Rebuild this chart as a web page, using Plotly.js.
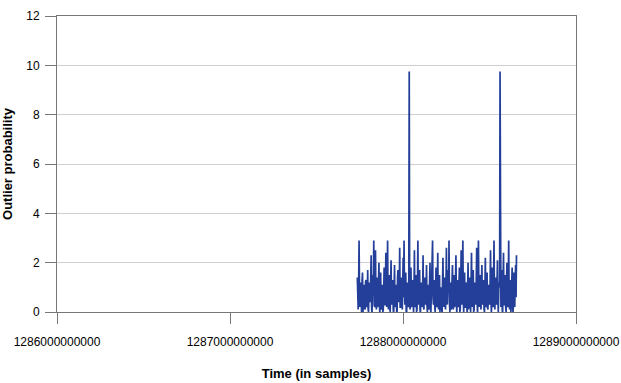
<!DOCTYPE html>
<html>
<head>
<meta charset="utf-8">
<script src="https://cdn.plot.ly/plotly-3.0.1.min.js"></script>
<style>html,body{margin:0;padding:0;background:#fff;}#chart{width:621px;height:383px;}</style>
</head>
<body>
<div id="chart"></div>
<script>
// Sample timing: first sample and spacing between samples
const xStart = 1287736000000;
const xStep = 2500000;

// Outlier probability per sample
const outlierProbability = [
  1.4,0.5, 0.1,1.0, 2.9,0.9, 0.2,0.7, 1.2,0.3, -0.1,1.3, 1.6,0.0, 0.3,0.9, 1.1,0.2, 0.1,1.2,
  1.3,0.4, 0.2,0.8, 1.7,0.1, 0.0,1.0, 1.2,0.6, 0.4,1.4, 2.3,0.2, -0.1,0.9, 1.5,0.7, 2.9,0.3,
  0.2,1.1, 2.5,0.4, 0.1,0.8, 1.4,0.2, 0.3,1.2, 2.0,0.5, -0.1,1.0, 1.6,0.1, 0.2,0.7, 1.1,0.0,
  0.1,0.9, 1.8,0.3, 0.3,1.1, 2.4,0.6, 0.2,1.3, 2.9,0.4, 0.1,0.8, 1.5,0.2, 0.0,1.0, 2.1,0.5,
  0.3,1.2, 1.3,0.1, -0.1,0.7, 1.9,0.3, 0.2,1.1, 1.0,0.0, 0.0,1.4, 1.7,0.5, 0.4,0.9, 2.6,0.2,
  0.2,1.0, 1.4,0.3, 0.1,1.2, 2.2,0.6, 2.9,0.8, 0.3,1.1, 1.6,0.0, -0.1,0.9, 1.2,0.4, 0.2,1.3,
  9.75,0.5, 0.1,1.0, 1.8,0.2, 0.3,1.2, 1.3,0.4, 0.0,0.8, 2.5,0.3, 0.2,1.1, 1.5,0.0, 0.1,0.9,
  2.9,0.6, 0.3,1.3, 1.7,0.1, -0.1,1.0, 1.2,0.5, 0.2,0.8, 2.3,0.2, 0.1,1.2, 1.4,0.4, 0.3,0.9,
  1.9,0.3, 0.0,1.0, 1.1,0.1, 0.2,1.2, 2.0,0.4, -0.1,0.7, 1.6,1.1, 2.9,0.6, 0.3,1.0, 1.3,0.2,
  0.0,0.9, 1.8,0.4, 0.2,1.1, 2.4,0.3, 0.1,1.3, 1.5,0.0, 0.3,0.8, 1.0,0.2, -0.1,1.2, 2.2,0.5,
  0.2,1.0, 1.4,0.3, 0.1,1.2, 2.6,0.5, 0.3,0.9, 1.7,0.8, 2.9,0.4, 0.0,1.1, 1.2,0.1, 0.2,1.3,
  1.9,0.4, 0.1,0.9, 1.5,0.2, 0.3,1.2, 2.3,0.6, -0.1,1.0, 1.3,0.3, 0.2,1.1, 1.8,0.0, 0.1,0.8,
  2.5,0.7, 0.3,1.4, 2.9,0.5, 0.0,1.0, 1.6,0.2, 0.2,1.2, 1.1,0.4, -0.1,0.9, 2.0,0.1, 0.3,1.1,
  1.4,0.3, 0.0,1.2, 2.4,0.6, 0.2,0.9, 1.7,0.0, 0.1,1.1, 1.2,0.4, 0.3,1.3, 2.6,0.5, -0.1,1.0,
  2.9,0.8, 0.2,1.1, 1.5,0.3, 0.1,1.2, 1.9,0.5, 0.3,0.9, 1.3,0.1, 0.0,1.0, 2.2,0.4, 0.2,1.3,
  1.6,0.2, 0.1,1.0, 1.1,0.4, 0.3,1.2, 2.5,0.6, -0.1,0.8, 1.8,0.3, 0.2,1.1, 2.9,0.7, 0.1,1.0,
  1.4,0.4, 0.3,1.2, 2.1,0.5, 0.0,0.9, 1.2,1.0, 9.75,0.6, 0.2,1.1, 1.7,0.1, -0.1,1.3, 2.4,0.3,
  0.3,1.0, 1.5,0.2, 0.0,1.2, 2.0,0.4, 0.2,1.1, 2.9,0.6, 0.1,0.9, 1.3,0.0, 0.3,1.2, 1.8,0.5,
  -0.1,1.0, 1.6,0.3, 0.2,1.2, 1.9,0.6, 2.3
];

const xTickVals = [1286000000000, 1287000000000, 1288000000000, 1289000000000];
const xTickText = ['1286000000000', '1287000000000', '1288000000000', '1289000000000'];
const yTickVals = [0, 2, 4, 6, 8, 10, 12];

// Sample times (one per value)
const sampleTimes = outlierProbability.map((_, i) => xStart + i * xStep);

const trace = {
  type: 'scatter',
  mode: 'lines',
  x: sampleTimes,
  y: outlierProbability,
  line: {color: '#233f99', width: 1.7},
  cliponaxis: false,
  hoverinfo: 'skip'
};

const font = {family: '"Liberation Sans", Arial, sans-serif', size: 12, color: '#000'};

const layout = {
  width: 621,
  height: 383,
  margin: {l: 57, r: 45, t: 16, b: 71},
  paper_bgcolor: '#fff',
  plot_bgcolor: '#fff',
  showlegend: false,
  font: font,
  xaxis: {
    type: 'linear',
    range: [1286000000000, 1289000000000],
    tickmode: 'array',
    tickvals: xTickVals,
    ticktext: xTickText,
    ticks: 'outside',
    ticklen: 11,
    ticklabelstandoff: 8,
    tickcolor: '#777',
    tickwidth: 1,
    showgrid: false,
    zeroline: false,
    showline: true,
    linecolor: '#777',
    linewidth: 1,
    mirror: true,
    tickfont: font,
    title: {text: '<b>Time (in samples)</b>', font: {family: font.family, size: 13, color: '#000'}, standoff: 20}
  },
  yaxis: {
    type: 'linear',
    range: [0, 12],
    tickmode: 'array',
    tickvals: yTickVals,
    ticks: 'outside',
    ticklen: 11,
    ticklabelstandoff: 3,
    tickcolor: '#777',
    tickwidth: 1,
    showgrid: true,
    gridcolor: '#cfcfcf',
    gridwidth: 1,
    zeroline: false,
    showline: true,
    linecolor: '#777',
    linewidth: 1,
    mirror: true,
    tickfont: font,
    title: {text: '<b>Outlier probability</b>', font: {family: font.family, size: 13, color: '#000'}, standoff: 11}
  }
};

Plotly.newPlot('chart', [trace], layout, {displayModeBar: false, staticPlot: true});
</script>
</body>
</html>
